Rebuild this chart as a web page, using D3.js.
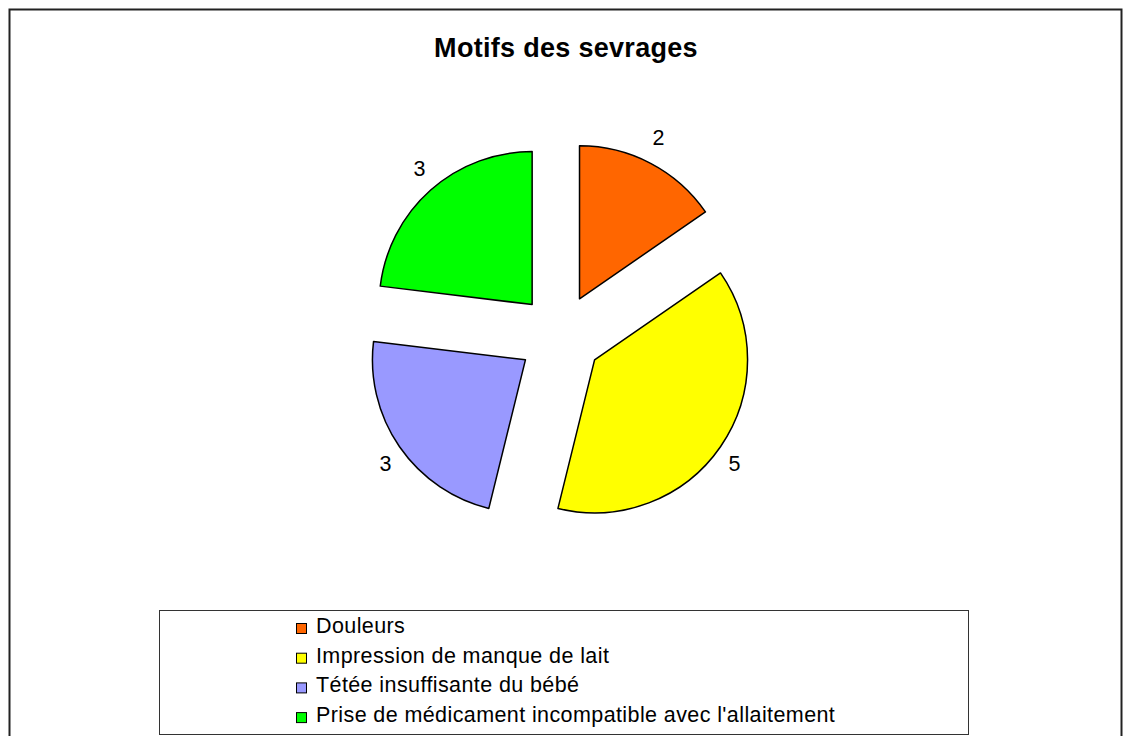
<html>
  <head>
    <meta charset="utf-8" />
    <style>
      body { margin: 0; background: #fff; }
      text { font-family: "Liberation Sans", Arial, sans-serif; }
    </style>
  </head>
  <body>
    <svg></svg>
    <script src="https://d3js.org/d3.v7.min.js"></script>
    <script>
      let width = 1123,
        height = 736;

      // data
      let categories = [
        "Douleurs",
        "Impression de manque de lait",
        "Tétée insuffisante du bébé",
        "Prise de médicament incompatible avec l'allaitement"
      ];
      let values = [2, 5, 3, 3];
      let colors = ["#FF6600", "#FFFF00", "#9999FF", "#00FF00"];

      let svg = d3.select("svg").attr("width", width).attr("height", height);

      // outer frame
      svg
        .append("rect")
        .attr("x", 9.5)
        .attr("y", 9.5)
        .attr("width", 1112)
        .attr("height", 740)
        .attr("fill", "#fff")
        .attr("stroke", "#222")
        .attr("stroke-width", 2);

      svg
        .append("text")
        .attr("x", 566)
        .attr("y", 57)
        .attr("text-anchor", "middle")
        .attr("font-size", 27)
        .attr("font-weight", "bold")
        .attr("letter-spacing", 0.3)
        .text("Motifs des sevrages");

      // pie
      let cx = 560,
        cy = 336,
        radius = 153,
        explode = 42,
        labelRx = 212,
        labelRy = 224;

      let pie = d3.pie().sort(null).value((d) => d);
      let arc = d3.arc().innerRadius(0).outerRadius(radius);
      let arcs = pie(values);
      let mid = (d) => (d.startAngle + d.endAngle) / 2;

      let g = svg.append("g").attr("transform", `translate(${cx},${cy})`);

      g.selectAll("path")
        .data(arcs)
        .enter()
        .append("path")
        .attr("d", arc)
        .attr("transform", (d) => {
          let a = mid(d);
          return `translate(${explode * Math.sin(a)},${-explode * Math.cos(a)})`;
        })
        .attr("fill", (d, i) => colors[i])
        .attr("stroke", "#000")
        .attr("stroke-width", 1.5)
        .attr("stroke-linejoin", "round");

      g.selectAll(".lbl")
        .data(arcs)
        .enter()
        .append("text")
        .attr("class", "lbl")
        .attr("x", (d) => labelRx * Math.sin(mid(d)))
        .attr("y", (d) => -labelRy * Math.cos(mid(d)) + 7.5)
        .attr("text-anchor", "middle")
        .attr("font-size", 21.5)
        .text((d) => d.data);

      // legend
      svg
        .append("rect")
        .attr("x", 159.5)
        .attr("y", 610.5)
        .attr("width", 809)
        .attr("height", 124)
        .attr("fill", "#fff")
        .attr("stroke", "#333")
        .attr("stroke-width", 1);

      let legend = svg
        .selectAll(".leg")
        .data(categories)
        .enter()
        .append("g")
        .attr("class", "leg")
        .attr("transform", (d, i) => `translate(296,${633 + i * 29.7})`);

      legend
        .append("rect")
        .attr("x", 0.5)
        .attr("y", -9.5)
        .attr("width", 10)
        .attr("height", 10)
        .attr("fill", (d, i) => colors[i])
        .attr("stroke", "#000")
        .attr("stroke-width", 1);

      legend
        .append("text")
        .attr("x", 20)
        .attr("y", 0)
        .attr("font-size", 21.5)
        .attr("letter-spacing", 0.4)
        .text((d) => d);
    </script>
  </body>
</html>
